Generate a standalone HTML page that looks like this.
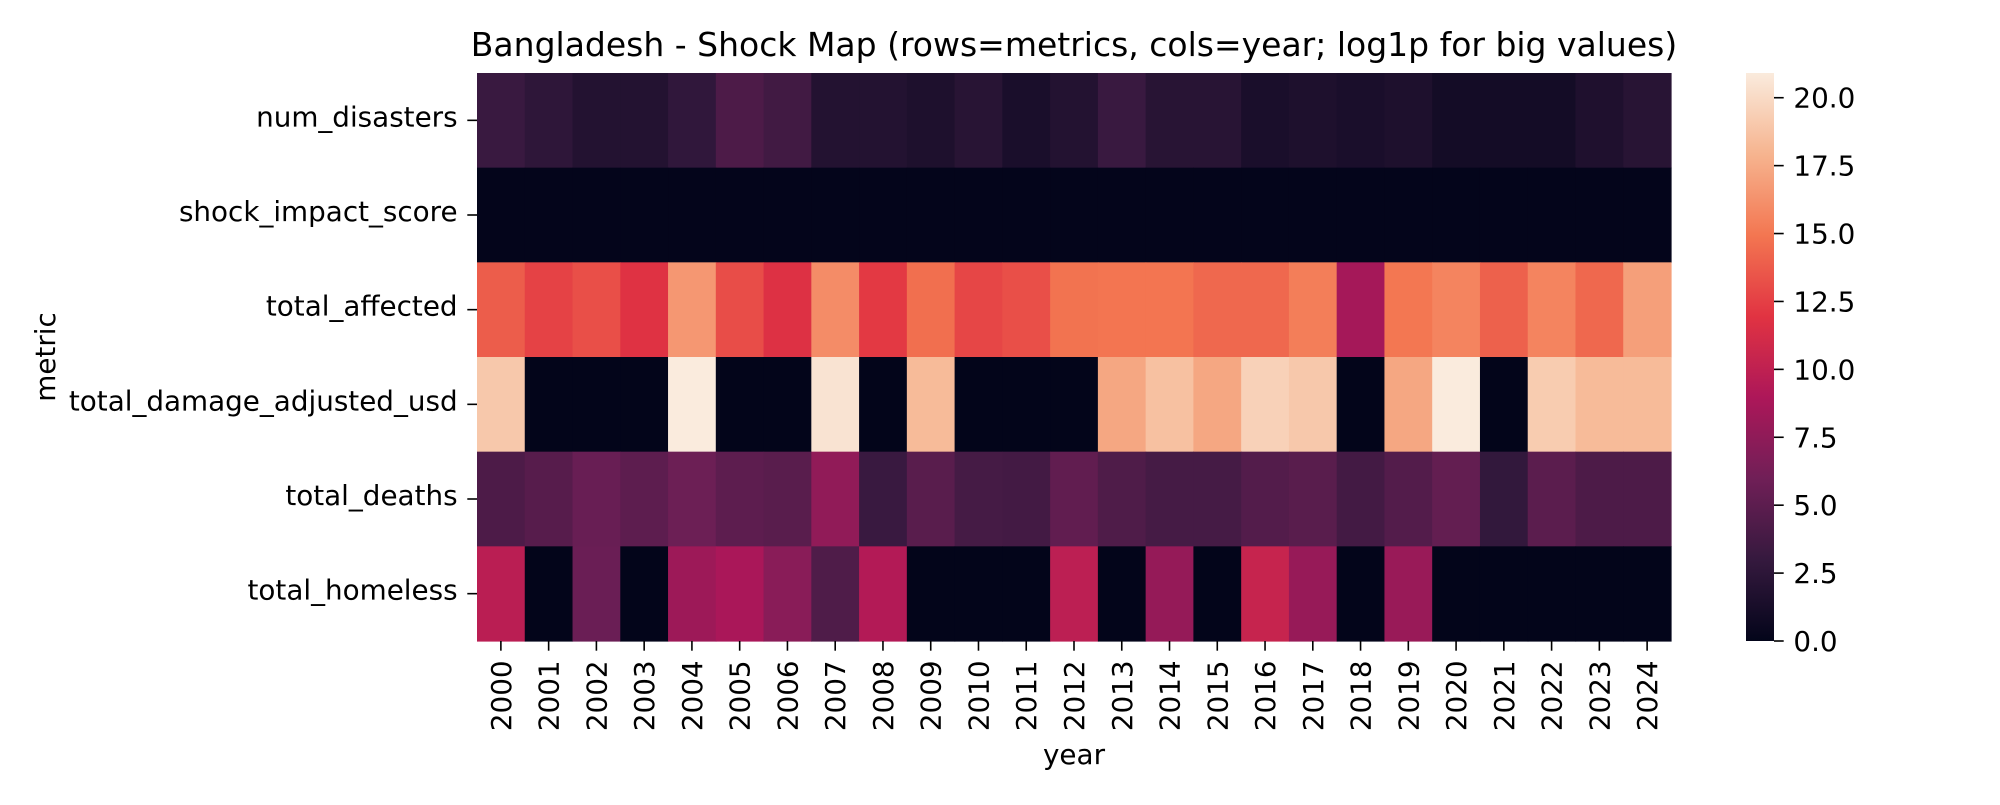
<!DOCTYPE html>
<html><head><meta charset="utf-8"><style>
html,body{margin:0;padding:0;background:#fff;}
svg text{font-family:"DejaVu Sans","Liberation Sans",sans-serif;fill:#000;}
</style></head>
<body>
<svg id="chart" width="2000" height="800" xmlns="http://www.w3.org/2000/svg">
<defs>
<linearGradient id="rocket" x1="0" y1="1" x2="0" y2="0">
<stop offset="0" stop-color="#03051a"/><stop offset="0.143" stop-color="#35193e"/>
<stop offset="0.286" stop-color="#701f57"/><stop offset="0.429" stop-color="#ad1759"/>
<stop offset="0.571" stop-color="#e13342"/><stop offset="0.714" stop-color="#f37651"/>
<stop offset="0.857" stop-color="#f6b48f"/><stop offset="1" stop-color="#faebdd"/>
</linearGradient>
</defs>
<text x="1074" y="56" font-size="33" text-anchor="middle">Bangladesh - Shock Map (rows=metrics, cols=year; log1p for big values)</text>
<g id="cells"></g>
<g id="yticks"></g>
<g id="xticks"></g>
<text x="1074" y="764" font-size="27.8" text-anchor="middle">year</text>
<text transform="translate(55,357) rotate(-90)" font-size="27.8" text-anchor="middle">metric</text>
<rect x="1746" y="73" width="28" height="568" fill="url(#rocket)"/>
<g id="cbticks"></g>
</svg>
<script>
const years = ["2000","2001","2002","2003","2004","2005","2006","2007","2008","2009","2010","2011","2012","2013","2014","2015","2016","2017","2018","2019","2020","2021","2022","2023","2024"];
const metrics = ["num_disasters","shock_impact_score","total_affected","total_damage_adjusted_usd","total_deaths","total_homeless"];
const numDisasters = [3.2,2.6,1.9,1.9,2.7,4.2,3.6,1.9,1.9,1.6,2.2,1.4,1.9,3.2,2.2,2.2,1.4,1.6,1.4,1.6,1.0,1.0,1.0,1.7,2.2];
const shockImpact = [0.05,0.05,0.05,0.05,0.05,0.05,0.05,0.05,0.05,0.05,0.05,0.05,0.05,0.05,0.05,0.05,0.05,0.05,0.05,0.05,0.05,0.05,0.05,0.05,0.05];
const totalAffected = [13.8,12.6,13.2,11.8,16.5,13.1,11.7,16.0,12.2,14.6,12.8,13.2,14.8,14.9,14.9,14.3,14.3,15.3,8.6,15.0,15.6,14.0,15.6,14.3,16.9];
const totalDamage = [19.0,0,0,0,20.9,0,0,20.5,0,18.3,0,0,0,17.3,18.6,17.3,19.5,19.0,0,17.3,20.9,0,19.2,18.3,18.3];
const totalDeaths = [4.2,4.7,5.6,5.0,5.8,5.0,4.8,7.6,3.2,4.8,3.8,3.7,5.2,4.3,3.8,3.8,4.5,4.8,3.7,4.5,5.3,2.8,4.9,4.2,4.2];
const totalHomeless = [9.7,0,5.7,0,8.2,8.8,7.2,4.3,9.3,0,0,0,9.8,0,7.8,0,10.4,7.9,0,8.0,0,0,0,0,0];
const cbTicks = [0,2.5,5,7.5,10,12.5,15,17.5,20];
const cbLabels = ["0.0","2.5","5.0","7.5","10.0","12.5","15.0","17.5","20.0"];
const vmin = 0, vmax = 20.91;

const rows = [numDisasters, shockImpact, totalAffected, totalDamage, totalDeaths, totalHomeless];
const NS = "http://www.w3.org/2000/svg";
const X0 = 477, X1 = 1671, Y0 = 73, Y1 = 641;
const FS = 27.8, TL = 9.7;
const cw = (X1 - X0) / years.length, ch = (Y1 - Y0) / metrics.length;
const xPos = i => X0 + i * cw;
const yPos = j => Y0 + j * ch;
const cbY = v => Y1 - (v - vmin) / (vmax - vmin) * (Y1 - Y0);
const stops = [[0,[3,5,26]],[0.143,[53,25,62]],[0.286,[112,31,87]],[0.429,[173,23,89]],[0.571,[225,51,66]],[0.714,[243,118,81]],[0.857,[246,180,143]],[1,[250,235,221]]];
function color(v){
  let t = Math.max(0, Math.min(1, (v - vmin) / (vmax - vmin)));
  for (let k = 1; k < stops.length; k++) {
    if (t <= stops[k][0]) {
      const a = stops[k-1], b = stops[k], f = (t - a[0]) / (b[0] - a[0]);
      const c = a[1].map((x, i) => Math.round(x + (b[1][i] - x) * f));
      return `rgb(${c[0]},${c[1]},${c[2]})`;
    }
  }
  return "rgb(250,235,221)";
}
function mk(tag, attrs, parent){
  const e = document.createElementNS(NS, tag);
  for (const k in attrs) e.setAttribute(k, attrs[k]);
  parent.appendChild(e); return e;
}
const cells = document.getElementById("cells");
rows.forEach((row, j) => {
  row.forEach((v, i) => {
    const r = mk("rect", {x: xPos(i), y: yPos(j), width: cw + 0.6, height: ch + 0.6, fill: color(v)}, cells);
    
    
  });
});
const yt = document.getElementById("yticks");
metrics.forEach((m, j) => {
  const cy = yPos(j) + ch / 2;
  const l = mk("line", {x1: X0 - TL, x2: X0, y1: cy, y2: cy, stroke: "#000", "stroke-width": 1.6}, yt);
  
  
  const t = mk("text", {x: X0 - 2 * TL, y: cy + 6, "font-size": FS, "text-anchor": "end"}, yt);
  t.textContent = m;
  
  
});
const xt = document.getElementById("xticks");
years.forEach((y, i) => {
  const cx = xPos(i) + cw / 2;
  const l = mk("line", {x1: cx, x2: cx, y1: Y1, y2: Y1 + TL, stroke: "#000", "stroke-width": 1.6}, xt);
  
  
  const t = mk("text", {transform: `translate(${cx + 10},${Y1 + 2 * TL}) rotate(-90)`, "font-size": FS, "text-anchor": "end"}, xt);
  t.textContent = y;
  
  
});
const cb = document.getElementById("cbticks");
cbTicks.forEach((v, k) => {
  const yy = cbY(v);
  const l = mk("line", {x1: 1774, x2: 1774 + TL, y1: yy, y2: yy, stroke: "#000", "stroke-width": 1.6}, cb);
  
  
  const t = mk("text", {x: 1774 + 2 * TL, y: yy + 10, "font-size": FS}, cb);
  t.textContent = cbLabels[k];
  
  
});
</script>
</body></html>
